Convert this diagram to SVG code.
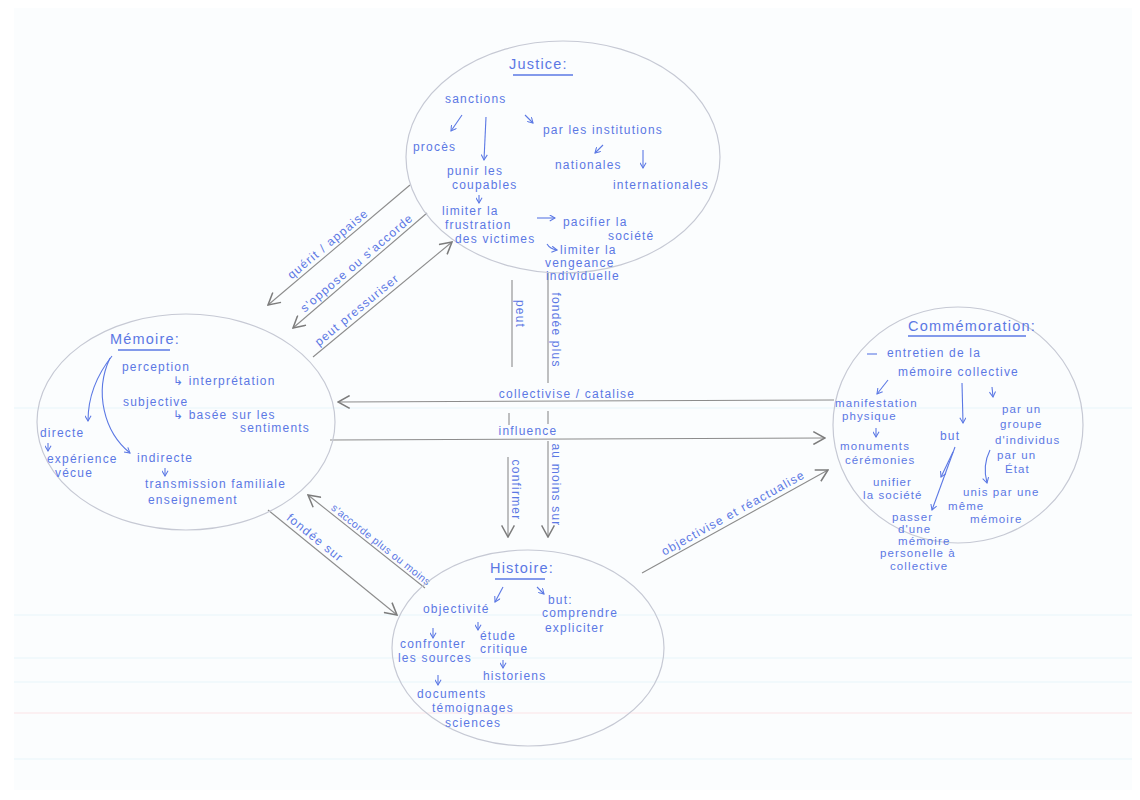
<svg xmlns="http://www.w3.org/2000/svg" width="1140" height="800" viewBox="0 0 1140 800">
<style>
.t{font-family:"Liberation Sans",Arial,sans-serif;font-size:12px;fill:#5b78e4;letter-spacing:1.2px}
.s{font-size:10.5px;letter-spacing:0.5px}
.n{font-size:11.5px;letter-spacing:1.1px}
.h{font-size:14.5px;letter-spacing:1.2px}
.m{text-anchor:middle}
.ul{stroke:#5b78e4;stroke-width:1.3;fill:none}
.c{fill:none;stroke:#c6c9d4;stroke-width:1.2}
.k{stroke:#8c8c8c;stroke-width:1.1;fill:none}
.b{stroke:#5b78e4;stroke-width:1.1;fill:none}
.ka{marker-end:url(#ag)}
.ba{marker-end:url(#ab)}
.rule{stroke:#e8f6fa;stroke-width:1.2}
</style>
<defs>
<marker id="ag" markerUnits="userSpaceOnUse" viewBox="0 0 12 12" refX="11" refY="6" markerWidth="14" markerHeight="14" orient="auto">
<path d="M1,0.5 L11,6 L1,11.5" fill="none" stroke="#7c7c7c" stroke-width="1.3"/>
</marker>
<marker id="ab" markerUnits="userSpaceOnUse" viewBox="0 0 8 8" refX="7" refY="4" markerWidth="7" markerHeight="7" orient="auto">
<path d="M1,0.5 L7,4 L1,7.5" fill="none" stroke="#5b78e4" stroke-width="1.2"/>
</marker>
</defs>
<rect width="1140" height="800" fill="#ffffff"/>
<rect x="14" y="8" width="1118" height="782" fill="#fbfdfe"/>
<g id="paper-rules">
<line class="rule" x1="14" y1="408" x2="1132" y2="408"/>
<line class="rule" x1="14" y1="615" x2="1132" y2="615"/>
<line class="rule" x1="14" y1="658" x2="1132" y2="658"/>
<line class="rule" x1="14" y1="682" x2="1132" y2="682"/>
<line x1="14" y1="713" x2="1132" y2="713" stroke="#fce3e5" stroke-width="1.2"/>
<line class="rule" x1="14" y1="759" x2="1132" y2="759"/>
</g>

<g id="connectors">
<line class="k ka" x1="410" y1="185" x2="268" y2="305"/>
<line class="k ka" x1="427" y1="213" x2="293" y2="328"/>
<line class="k ka" x1="313" y1="357" x2="452" y2="242"/>
<line class="k" x1="512" y1="280" x2="512" y2="367"/>
<line class="k" x1="509" y1="413" x2="509" y2="425"/>
<line class="k ka" x1="508" y1="457" x2="508" y2="537"/>
<line class="k" x1="548" y1="272" x2="548" y2="383"/>
<line class="k" x1="548" y1="411" x2="548" y2="424"/>
<line class="k ka" x1="548" y1="441" x2="548" y2="537"/>
<line class="k ka" x1="834" y1="400" x2="338" y2="402"/>
<line class="k ka" x1="330" y1="440" x2="825" y2="438"/>
<line class="k ka" x1="268" y1="510" x2="397" y2="615"/>
<line class="k ka" x1="425" y1="588" x2="308" y2="495"/>
<line class="k ka" x1="642" y1="573" x2="828" y2="470"/>
<text class="t m" transform="translate(333,250) rotate(-40)" y="-4">quérit / appaise</text>
<text class="t m" transform="translate(362,269) rotate(-40.5)" y="-4">s'oppose ou s'accorde</text>
<text class="t m" transform="translate(362,316) rotate(-39.6)" y="-4">peut pressuriser</text>
<text class="t m" transform="translate(513,314) rotate(90)" y="-3">peut</text>
<text class="t m" transform="translate(549,330) rotate(90)" y="-3">fondée plus</text>
<text class="t m" transform="translate(509,490) rotate(90)" y="-3">confirmer</text>
<text class="t m" transform="translate(549,485) rotate(90)" y="-3">au moins sur</text>
<text class="t m" x="567" y="398">collectivise / catalise</text>
<text class="t m" x="528" y="435">influence</text>
<text class="t m" transform="translate(310,544) rotate(39)" y="-4">fondée sur</text>
<text class="t s m" transform="translate(377,550) rotate(38.5)" y="-3">s'accorde plus ou moins</text>
<text class="t m" transform="translate(737,520) rotate(-29)" y="-4">objectivise et réactualise</text>
</g>

<g id="justice">
<ellipse class="c" cx="563" cy="157" rx="157" ry="116"/>
<text class="t h" x="509" y="69">Justice:</text>
<line class="ul" x1="513" y1="75" x2="573" y2="75"/>
<text class="t" x="445" y="103">sanctions</text>
<line class="b ba" x1="462" y1="115" x2="451" y2="131"/>
<text class="t" x="413" y="151">procès</text>
<line class="b ba" x1="486" y1="117" x2="484" y2="160"/>
<text class="t" x="447" y="175">punir les</text>
<text class="t" x="452" y="189">coupables</text>
<line class="b ba" x1="479" y1="195" x2="479" y2="203"/>
<text class="t" x="442" y="215">limiter la</text>
<text class="t" x="445" y="229">frustration</text>
<text class="t" x="455" y="243">des victimes</text>
<line class="b ba" x1="537" y1="218" x2="555" y2="218"/>
<text class="t" x="563" y="226">pacifier la</text>
<text class="t" x="608" y="240">société</text>
<path class="b ba" d="M547,244 Q550,249 557,250"/>
<text class="t" x="560" y="254">limiter la</text>
<text class="t" x="545" y="267">vengeance</text>
<text class="t" x="546" y="280">individuelle</text>
<line class="b ba" x1="525" y1="115" x2="533" y2="123"/>
<text class="t" x="543" y="134">par les institutions</text>
<line class="b ba" x1="603" y1="145" x2="595" y2="153"/>
<text class="t" x="555" y="169">nationales</text>
<line class="b ba" x1="643" y1="150" x2="643" y2="168"/>
<text class="t" x="613" y="189">internationales</text>
</g>

<g id="memoire">
<ellipse class="c" cx="186" cy="422" rx="149" ry="108"/>
<text class="t h" x="110" y="344">Mémoire:</text>
<line class="ul" x1="118" y1="350" x2="170" y2="350"/>
<text class="t" x="122" y="371">perception</text>
<text class="t" x="173" y="385">↳ interprétation</text>
<text class="t" x="123" y="406">subjective</text>
<text class="t" x="173" y="419">↳ basée sur les</text>
<text class="t" x="240" y="432">sentiments</text>
<path class="b ba" d="M112,356 C96,376 88,398 88,421"/>
<path class="b ba" d="M110,358 C94,392 104,432 130,453"/>
<text class="t" x="40" y="437">directe</text>
<line class="b ba" x1="48" y1="443" x2="48" y2="451"/>
<text class="t" x="47" y="463">expérience</text>
<text class="t" x="55" y="477">vécue</text>
<text class="t" x="137" y="462">indirecte</text>
<line class="b ba" x1="165" y1="468" x2="165" y2="476"/>
<text class="t" x="145" y="488">transmission familiale</text>
<text class="t" x="148" y="504">enseignement</text>
</g>

<g id="commemoration">
<ellipse class="c" cx="958" cy="425" rx="125" ry="118"/>
<text class="t h" x="908" y="331">Commémoration:</text>
<line class="ul" x1="908" y1="336" x2="1026" y2="336"/>
<line class="b" x1="867" y1="354" x2="877" y2="354"/>
<text class="t" x="887" y="357">entretien de la</text>
<text class="t" x="898" y="376">mémoire collective</text>
<line class="b ba" x1="888" y1="380" x2="877" y2="394"/>
<text class="t n" x="835" y="407">manifestation</text>
<text class="t n" x="842" y="420">physique</text>
<line class="b ba" x1="876" y1="428" x2="876" y2="437"/>
<text class="t n" x="840" y="450">monuments</text>
<text class="t n" x="845" y="464">cérémonies</text>
<line class="b ba" x1="962" y1="383" x2="963" y2="423"/>
<text class="t" x="940" y="440">but</text>
<line class="b ba" x1="992" y1="387" x2="993" y2="397"/>
<text class="t n" x="1002" y="413">par un</text>
<text class="t n" x="1000" y="428">groupe</text>
<text class="t n" x="995" y="444">d'individus</text>
<text class="t n" x="997" y="459">par un</text>
<text class="t n" x="1005" y="473">État</text>
<line class="b ba" x1="955" y1="447" x2="932" y2="510"/>
<line class="b ba" x1="953" y1="452" x2="941" y2="477"/>
<text class="t n" x="873" y="486">unifier</text>
<text class="t n" x="863" y="499">la société</text>
<path class="b ba" d="M990,450 C984,462 984,472 987,483"/>
<text class="t n" x="963" y="496">unis par une</text>
<text class="t n" x="948" y="510">même</text>
<text class="t n" x="970" y="523">mémoire</text>
<text class="t n" x="892" y="521">passer</text>
<text class="t n" x="898" y="533">d'une</text>
<text class="t n" x="898" y="545">mémoire</text>
<text class="t n" x="880" y="557">personelle à</text>
<text class="t n" x="890" y="570">collective</text>
</g>

<g id="histoire">
<ellipse class="c" cx="528" cy="648" rx="136" ry="98"/>
<text class="t h" x="490" y="573">Histoire:</text>
<line class="ul" x1="495" y1="579" x2="545" y2="579"/>
<line class="b ba" x1="503" y1="587" x2="495" y2="602"/>
<text class="t" x="423" y="613">objectivité</text>
<line class="b ba" x1="537" y1="587" x2="544" y2="594"/>
<text class="t" x="548" y="604">but:</text>
<text class="t" x="542" y="617">comprendre</text>
<text class="t" x="545" y="632">expliciter</text>
<line class="b ba" x1="433" y1="628" x2="433" y2="638"/>
<text class="t" x="400" y="648">confronter</text>
<text class="t" x="398" y="662">les sources</text>
<line class="b ba" x1="478" y1="622" x2="478" y2="630"/>
<text class="t" x="480" y="640">étude</text>
<text class="t" x="480" y="653">critique</text>
<line class="b ba" x1="503" y1="660" x2="503" y2="668"/>
<text class="t" x="483" y="680">historiens</text>
<line class="b ba" x1="438" y1="675" x2="438" y2="685"/>
<text class="t" x="417" y="698">documents</text>
<text class="t" x="432" y="712">témoignages</text>
<text class="t" x="445" y="727">sciences</text>
</g>
</svg>
